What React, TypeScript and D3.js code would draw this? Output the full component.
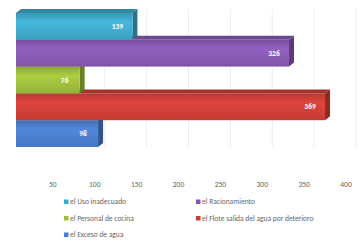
import React from 'react';
import * as d3 from 'd3';

const categories = ['el Uso inadecuado', 'el Racionamiento', 'el Personal de cocina', 'el Flote salida del agua por deterioro', 'el Exceso de agua'];
const values = [139, 326, 76, 369, 98];
const colors = ['#3ea8cb', '#8659b0', '#9cbc3b', '#cc3f38', '#4a7dc9'];
const ticks = [50, 100, 150, 200, 250, 300, 350, 400];

const W = 363;
const H = 244;
const dx = 5;
const dy = 4;

const App = () => {
  const x = d3.scaleLinear().domain([0, 400]).range([16, 351]);
  const y = d3.scaleBand().domain(categories).range([13, 147]).padding(0);
  const bh = y.bandwidth();

  const order = d3.range(categories.length).reverse();

  return (
    <svg width={W} height={H} style={{ position: 'absolute', left: 0, top: 0, fontFamily: 'Calibri, Carlito, "Liberation Sans", Arial, sans-serif' }}>
      <defs>
        {colors.map((c, i) => (
          <linearGradient key={i} id={'g' + i} x1="0" y1="0" x2="0" y2="1">
            <stop offset="0" stopColor={d3.color(c)!.darker(0.3).formatHex()} />
            <stop offset="0.35" stopColor={d3.color(c)!.brighter(0.25).formatHex()} />
            <stop offset="1" stopColor={d3.color(c)!.darker(0.15).formatHex()} />
          </linearGradient>
        ))}
      </defs>
      <rect width={W} height={H} fill="#fff" />
      {ticks.map(t => (
        <line key={t} x1={x(t) + dx} x2={x(t) + dx} y1={9} y2={147} stroke="#eeeeee" strokeWidth={1} />
      ))}
      {order.map(i => {
        const c = categories[i];
        const y0 = y(c)!;
        const y1 = y0 + bh;
        const x0 = x(0);
        const x1 = x(values[i]);
        const col = d3.color(colors[i])!;
        return (
          <g key={c}>
            <polygon points={`${x0},${y0} ${x0 + dx},${y0 - dy} ${x1 + dx},${y0 - dy} ${x1},${y0}`} fill={col.darker(0.6).formatHex()} />
            <polygon points={`${x1},${y0} ${x1 + dx},${y0 - dy} ${x1 + dx},${y1 - dy} ${x1},${y1}`} fill={col.darker(1.1).formatHex()} />
            <rect x={x0} y={y0} width={x1 - x0} height={bh} fill={`url(#g${i})`} />
            <text x={x1 - 15} y={y0 + bh / 2 + 2.5} textAnchor="middle" fill="#fff" fontSize={7.5} fontWeight="bold">{values[i]}</text>
          </g>
        );
      })}
      {ticks.map(t => (
        <text key={t} x={x(t) - 5} y={187} textAnchor="middle" fill="#666" fontSize={7.5}>{t}</text>
      ))}
      {categories.map((c, i) => {
        const col = i % 2;
        const row = Math.floor(i / 2);
        const lx = col === 0 ? 64 : 196;
        const ly = 204 + row * 16.5;
        return (
          <g key={c}>
            <rect x={lx} y={ly - 4.5} width={4.5} height={4.5} fill={colors[i]} />
            <text x={lx + 6} y={ly} fill="#666" fontSize={7.5}>{c}</text>
          </g>
        );
      })}
    </svg>
  );
};

export default App;
